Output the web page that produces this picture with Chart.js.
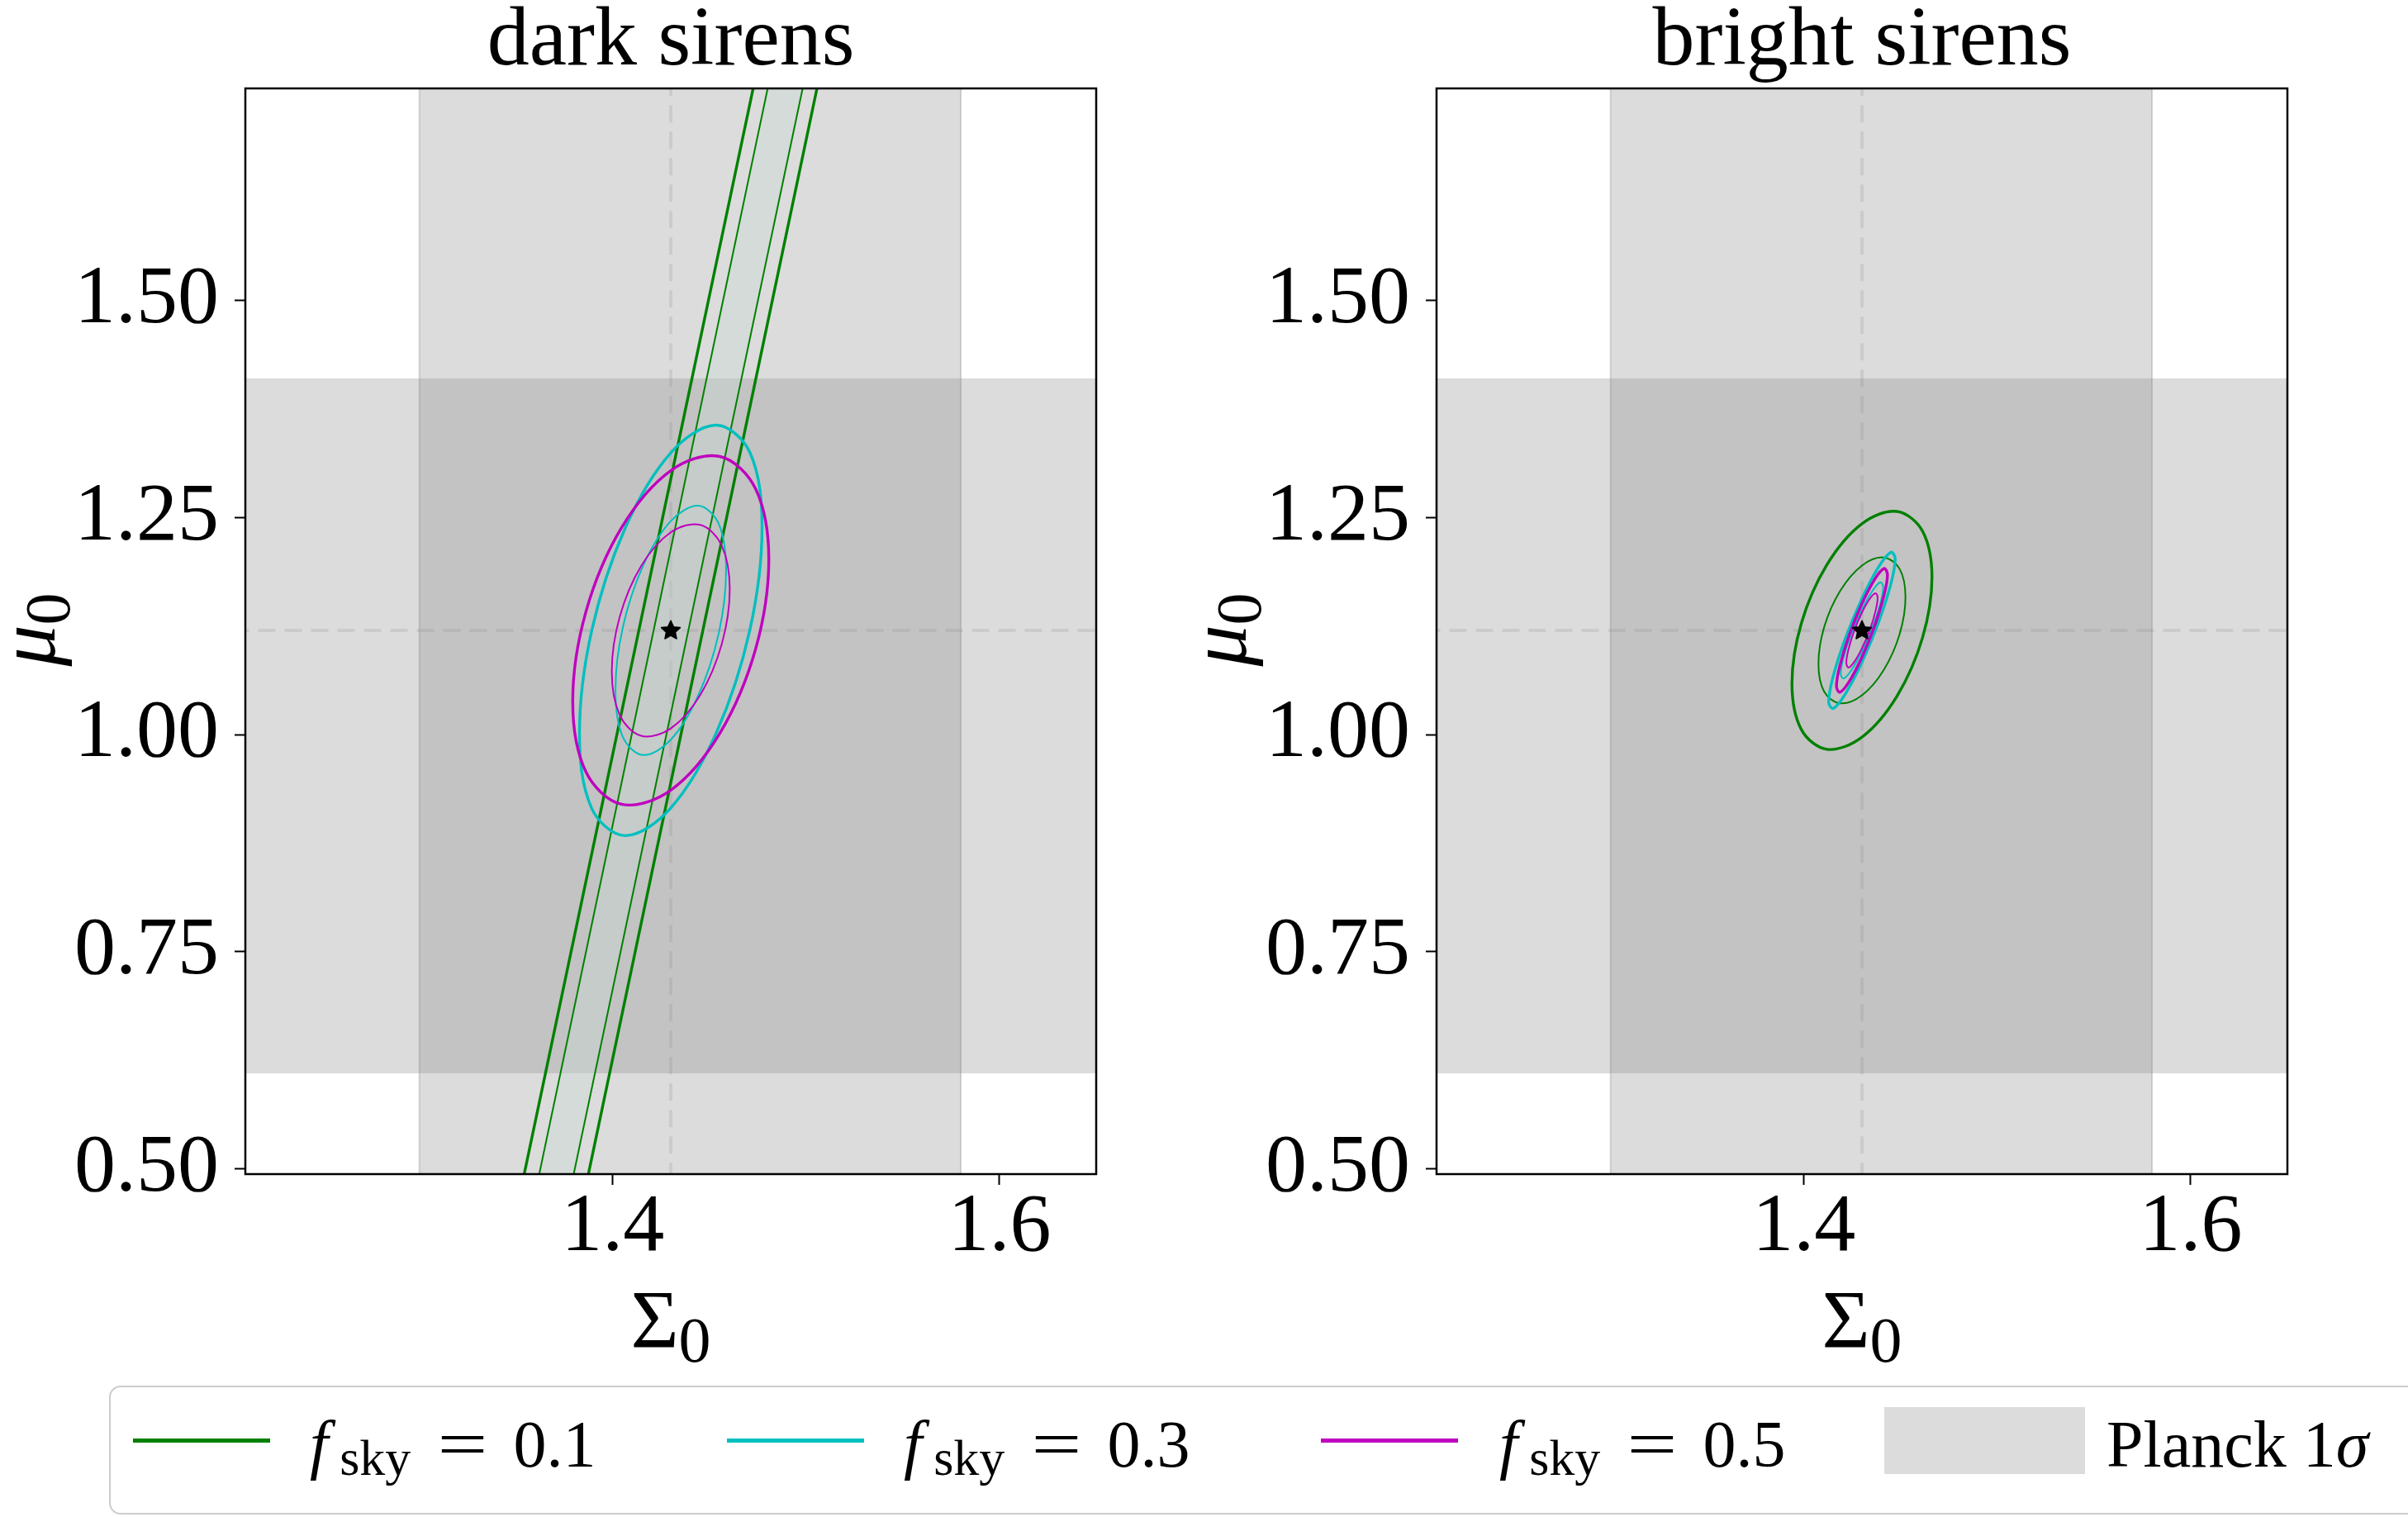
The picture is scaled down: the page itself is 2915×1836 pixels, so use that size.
<!DOCTYPE html>
<html>
<head>
<meta charset="utf-8">
<title>dark and bright sirens</title>
<script src="https://cdn.jsdelivr.net/npm/chart.js@4.4.1/dist/chart.umd.min.js"></script>
<style>
  html, body { margin: 0; padding: 0; background: #fff; }
  body { position: relative; width: 2915px; height: 1836px; overflow: hidden;
         font-family: "Liberation Serif", "Times New Roman", serif; color: #000; }
  .panel { position: absolute; top: 0; width: 1400px; height: 1560px; }
  .xlabel { position: absolute; top: 1547px; font-size: 100px; line-height: 1; white-space: nowrap; transform: translateX(-50%); }
  .ylabel { position: absolute; top: 712px; width: 120px; height: 100px; font-size: 100px; line-height: 1;
            text-align: center; white-space: nowrap; transform: rotate(-90deg); }
  .xlabel sub, .ylabel sub { font-size: 78px; vertical-align: -18px; line-height: 0; }
  #legend { position: absolute; left: 132px; top: 1677px; width: 2900px; height: 152px;
            border: 2.5px solid #cccccc; border-radius: 14px; background: #fff; }
  .swatch { position: absolute; top: 1741px; width: 166px; height: 5px; }
  .patch { position: absolute; left: 2281px; top: 1703px; width: 243px; height: 81px; background: #dcdcdc; }
  .entry { position: absolute; top: 1708px; font-size: 80px; line-height: 1; white-space: nowrap; }
  .entry .sub { font-size: 62px; vertical-align: -10px; margin-left: 14px; }
  .entry .eq { display: inline-block; width: 60px; text-align: center; transform: scaleX(1.35);
               margin: 0 31px 0 33px; }
</style>
</head>
<body>
<canvas id="dark" class="panel" style="left:0px" width="1400" height="1560"></canvas>
<canvas id="bright" class="panel" style="left:1442px" width="1400" height="1560"></canvas>

<div class="xlabel" style="left:812px">Σ<sub>0</sub></div>
<div class="xlabel" style="left:2254px">Σ<sub>0</sub></div>
<div class="ylabel" style="left:-27px"><i>μ</i><sub>0</sub></div>
<div class="ylabel" style="left:1415px"><i>μ</i><sub>0</sub></div>

<div id="legend"></div>
<div id="legendItems"></div>

<script>
// axes
const sigmaRange = [1.21, 1.65];
const muRange = [0.494, 1.744];
const sigmaTicks = [1.4, 1.6];
const muTicks = [0.50, 0.75, 1.00, 1.25, 1.50];
const panelTitles = ['dark sirens', 'bright sirens'];

// fiducial point and Planck 1-sigma bands
const fiducial = [1.43, 1.12];
const planckSigma = [1.30, 1.58];
const planckMu = [0.61, 1.41];
const beyond = [0.0, 3.0];

// f_sky values of the three surveys
const fskyValues = ['0.1', '0.3', '0.5'];
const seriesColors = ['#008000', '#00bfbf', '#bf00bf'];

// dark sirens, f_sky = 0.1: open degeneracy band, Sigma0 at mu0 = 0.4 and 1.8
const darkGreenMu = [0.4, 1.8];
const darkGreen2Left = [1.3453, 1.4779];
const darkGreen1Left = [1.3531, 1.4854];
const darkGreen1Right = [1.3709, 1.5035];
const darkGreen2Right = [1.3785, 1.5109];

// dark sirens, closed contours (Sigma0, mu0), 12 points each
const darkCyan2Sigma = [1.4772, 1.4709, 1.4536, 1.4300, 1.4064, 1.3891, 1.3828, 1.3891, 1.4064, 1.4300, 1.4536, 1.4709];
const darkCyan2Mu = [1.2386, 1.3249, 1.3563, 1.3244, 1.2377, 1.1195, 1.0014, 0.9151, 0.8837, 0.9156, 1.0023, 1.1205];
const darkCyan1Sigma = [1.4586, 1.4548, 1.4443, 1.4300, 1.4157, 1.4052, 1.4014, 1.4052, 1.4157, 1.4300, 1.4443, 1.4548];
const darkCyan1Mu = [1.1889, 1.2427, 1.2635, 1.2459, 1.1945, 1.1233, 1.0511, 0.9973, 0.9765, 0.9941, 1.0455, 1.1167];
const darkMagenta2Sigma = [1.4807, 1.4739, 1.4554, 1.4300, 1.4046, 1.3861, 1.3793, 1.3861, 1.4046, 1.4300, 1.4554, 1.4739];
const darkMagenta2Mu = [1.2018, 1.2828, 1.3202, 1.3040, 1.2384, 1.1412, 1.0382, 0.9572, 0.9198, 0.9360, 1.0016, 1.0988];
const darkMagenta1Sigma = [1.4605, 1.4564, 1.4453, 1.4300, 1.4147, 1.4036, 1.3995, 1.4036, 1.4147, 1.4300, 1.4453, 1.4564];
const darkMagenta1Mu = [1.1672, 1.2174, 1.2414, 1.2329, 1.1942, 1.1356, 1.0728, 1.0226, 0.9986, 1.0071, 1.0458, 1.1044];

// bright sirens, closed contours
const brightGreen2Sigma = [1.4662, 1.4613, 1.4481, 1.4300, 1.4119, 1.3987, 1.3938, 1.3987, 1.4119, 1.4300, 1.4481, 1.4613];
const brightGreen2Mu = [1.1811, 1.2343, 1.2569, 1.2428, 1.1957, 1.1285, 1.0589, 1.0057, 0.9831, 0.9972, 1.0443, 1.1115];
const brightGreen1Sigma = [1.4525, 1.4495, 1.4413, 1.4300, 1.4187, 1.4105, 1.4075, 1.4105, 1.4187, 1.4300, 1.4413, 1.4495];
const brightGreen1Mu = [1.1585, 1.1907, 1.2040, 1.1947, 1.1654, 1.1241, 1.0815, 1.0493, 1.0360, 1.0453, 1.0746, 1.1159];
const brightCyan2Sigma = [1.4472, 1.4449, 1.4386, 1.4300, 1.4214, 1.4151, 1.4128, 1.4151, 1.4214, 1.4300, 1.4386, 1.4449];
const brightCyan2Mu = [1.2026, 1.2099, 1.1931, 1.1567, 1.1105, 1.0669, 1.0374, 1.0301, 1.0469, 1.0833, 1.1295, 1.1731];
const brightCyan1Sigma = [1.4410, 1.4395, 1.4355, 1.4300, 1.4245, 1.4205, 1.4190, 1.4205, 1.4245, 1.4300, 1.4355, 1.4395];
const brightCyan1Mu = [1.1700, 1.1754, 1.1659, 1.1441, 1.1159, 1.0888, 1.0700, 1.0646, 1.0741, 1.0959, 1.1241, 1.1512];
const brightMagenta2Sigma = [1.4432, 1.4414, 1.4366, 1.4300, 1.4234, 1.4186, 1.4168, 1.4186, 1.4234, 1.4300, 1.4366, 1.4414];
const brightMagenta2Mu = [1.1844, 1.1912, 1.1789, 1.1508, 1.1145, 1.0796, 1.0556, 1.0488, 1.0611, 1.0892, 1.1255, 1.1604];
const brightMagenta1Sigma = [1.4381, 1.4370, 1.4341, 1.4300, 1.4259, 1.4230, 1.4219, 1.4230, 1.4259, 1.4300, 1.4341, 1.4370];
const brightMagenta1Mu = [1.1575, 1.1628, 1.1566, 1.1406, 1.1190, 1.0978, 1.0825, 1.0772, 1.0834, 1.0994, 1.1210, 1.1422];

const FONT = '"Liberation Serif", "Times New Roman", serif';
Chart.defaults.font.family = FONT;
Chart.defaults.color = '#000';

const THICK = 3.4, THIN = 2;
const bandColor = 'rgba(128,128,128,0.276)';
const CLEAR = 'rgba(0,0,0,0)';

function pts(xs, ys) {
    return xs.map((x, i) => ({ x: x, y: ys[i] }));
}

// closed contour: one point repeated on each end so the spline has proper
// tangents all round; the two helper end segments are left invisible
function loopPts(xs, ys) {
    const n = xs.length;
    const out = [];
    for (let k = -1; k <= n + 1; k++) {
        const i = (k + n) % n;
        out.push({ x: xs[i], y: ys[i] });
    }
    return out;
}

function contour(xs, ys, color, width) {
    const last = xs.length + 2;
    return {
        data: loopPts(xs, ys), showLine: true, borderColor: color, borderWidth: width,
        pointRadius: 0, tension: 0.35, fill: false,
        segment: {
            borderColor: c => (c.p0DataIndex === 0 || c.p1DataIndex === last) ? CLEAR : color
        }
    };
}

function line(xs, ys, color, width, dash) {
    return { data: pts(xs, ys), showLine: true, borderColor: color, borderWidth: width,
             borderDash: dash || [], pointRadius: 0, tension: 0, fill: false };
}

function area(xs, ys, color, edge, edgeWidth) {
    return { data: pts(xs, ys), showLine: true, fill: 'shape', backgroundColor: color,
             borderColor: edge || CLEAR, borderWidth: edgeWidth || 0, pointRadius: 0, tension: 0 };
}

function starMarker(r) {
    const c = document.createElement('canvas');
    c.width = c.height = 2 * r + 4;
    const g = c.getContext('2d');
    g.beginPath();
    for (let i = 0; i < 10; i++) {
        const rr = i % 2 ? r * 0.48 : r;
        const a = -Math.PI / 2 + i * Math.PI / 5;
        const px = r + 2 + rr * Math.cos(a), py = r + 2 + 0.3 + rr * Math.sin(a);
        if (i === 0) g.moveTo(px, py); else g.lineTo(px, py);
    }
    g.closePath();
    g.fillStyle = '#000';
    g.lineJoin = 'round';
    g.lineWidth = 1.5;
    g.strokeStyle = '#000';
    g.fill();
    g.stroke();
    return c;
}
const star = starMarker(12);

function commonSets() {
    return [
        line([fiducial[0], fiducial[0]], beyond, 'rgba(128,128,128,0.18)', 4, [21, 11]),
        line(beyond, [fiducial[1], fiducial[1]], 'rgba(128,128,128,0.18)', 4, [21, 11]),
        area([beyond[0], beyond[1], beyond[1], beyond[0], beyond[0]],
             [planckMu[0], planckMu[0], planckMu[1], planckMu[1], planckMu[0]], bandColor),
        area([planckSigma[0], planckSigma[0], planckSigma[1], planckSigma[1], planckSigma[0]],
             [beyond[0], beyond[1], beyond[1], beyond[0], beyond[0]], bandColor, 'rgba(128,128,128,0.3)', 2)
    ];
}

function starSet() {
    return { data: [{ x: fiducial[0], y: fiducial[1] }], pointStyle: star, pointRadius: 12, showLine: false };
}

const darkSets = [
    starSet(),
    contour(darkMagenta1Sigma, darkMagenta1Mu, seriesColors[2], THIN),
    contour(darkMagenta2Sigma, darkMagenta2Mu, seriesColors[2], THICK),
    contour(darkCyan1Sigma, darkCyan1Mu, seriesColors[1], THIN),
    contour(darkCyan2Sigma, darkCyan2Mu, seriesColors[1], THICK),
    line(darkGreen1Left, darkGreenMu, seriesColors[0], THIN),
    line(darkGreen1Right, darkGreenMu, seriesColors[0], THIN),
    line(darkGreen2Left, darkGreenMu, seriesColors[0], THICK),
    line(darkGreen2Right, darkGreenMu, seriesColors[0], THICK),
    area([darkGreen1Left[0], darkGreen1Left[1], darkGreen1Right[1], darkGreen1Right[0], darkGreen1Left[0]],
         [darkGreenMu[0], darkGreenMu[1], darkGreenMu[1], darkGreenMu[0], darkGreenMu[0]],
         'rgba(200,218,210,0.38)')
].concat(commonSets());

const brightSets = [
    starSet(),
    contour(brightMagenta1Sigma, brightMagenta1Mu, seriesColors[2], THIN),
    contour(brightMagenta2Sigma, brightMagenta2Mu, seriesColors[2], THICK),
    contour(brightCyan1Sigma, brightCyan1Mu, seriesColors[1], THIN),
    contour(brightCyan2Sigma, brightCyan2Mu, seriesColors[1], THICK),
    contour(brightGreen1Sigma, brightGreen1Mu, seriesColors[0], THIN),
    contour(brightGreen2Sigma, brightGreen2Mu, seriesColors[0], THICK)
].concat(commonSets());

const framePlugin = {
    id: 'frame',
    afterDatasetsDraw(chart) {
        const { ctx, chartArea: a } = chart;
        ctx.save();
        ctx.strokeStyle = '#000';
        ctx.lineWidth = 2.5;
        ctx.strokeRect(a.left, a.top, a.right - a.left, a.bottom - a.top);
        ctx.restore();
    }
};

function makePanel(id, title, datasets) {
    return new Chart(document.getElementById(id), {
        type: 'scatter',
        data: { datasets: datasets },
        options: {
            responsive: false,
            animation: false,
            devicePixelRatio: 1,
            layout: { padding: { left: 0, top: 0, right: 73, bottom: 0 } },
            plugins: {
                legend: { display: false },
                tooltip: { enabled: false },
                title: {
                    display: true, text: title, fullSize: false, color: '#000',
                    font: { family: FONT, size: 102, weight: 'normal', lineHeight: 1 },
                    padding: { top: 0, bottom: 5 }
                }
            },
            scales: {
                x: {
                    type: 'linear', min: sigmaRange[0], max: sigmaRange[1],
                    afterBuildTicks: s => { s.ticks = sigmaTicks.map(v => ({ value: v })); },
                    afterFit: s => { s.height = 139; },
                    border: { display: false },
                    grid: { drawOnChartArea: false, drawTicks: true, tickLength: 13, tickWidth: 2, tickColor: '#000' },
                    ticks: { font: { size: 100, lineHeight: 1 }, padding: 3, maxRotation: 0, autoSkip: false,
                             color: '#000', callback: v => v.toFixed(1) }
                },
                y: {
                    type: 'linear', min: muRange[0], max: muRange[1],
                    afterBuildTicks: s => { s.ticks = muTicks.map(v => ({ value: v })); },
                    afterFit: s => { s.width = 297; },
                    border: { display: false },
                    grid: { drawOnChartArea: false, drawTicks: true, tickLength: 13, tickWidth: 2, tickColor: '#000' },
                    ticks: { font: { size: 100 }, padding: 19, autoSkip: false,
                             color: '#000', callback: v => v.toFixed(2) }
                }
            }
        },
        plugins: [framePlugin]
    });
}

makePanel('dark', panelTitles[0], darkSets);
makePanel('bright', panelTitles[1], brightSets);

// legend shared by both panels
const swatchLeft = [161, 880, 1599];
const labelLeft = [375, 1094, 1815];
const items = document.getElementById('legendItems');
fskyValues.forEach((v, i) => {
    const sw = document.createElement('div');
    sw.className = 'swatch';
    sw.style.left = swatchLeft[i] + 'px';
    sw.style.background = seriesColors[i];
    items.appendChild(sw);
    const lb = document.createElement('div');
    lb.className = 'entry';
    lb.style.left = labelLeft[i] + 'px';
    lb.innerHTML = '<i>f</i><span class="sub">sky</span><span class="eq">=</span>' + v;
    items.appendChild(lb);
});
const patch = document.createElement('div');
patch.className = 'patch';
items.appendChild(patch);
const planck = document.createElement('div');
planck.className = 'entry';
planck.style.left = '2550px';
planck.innerHTML = 'Planck 1<i>σ</i>';
items.appendChild(planck);
</script>
</body>
</html>
